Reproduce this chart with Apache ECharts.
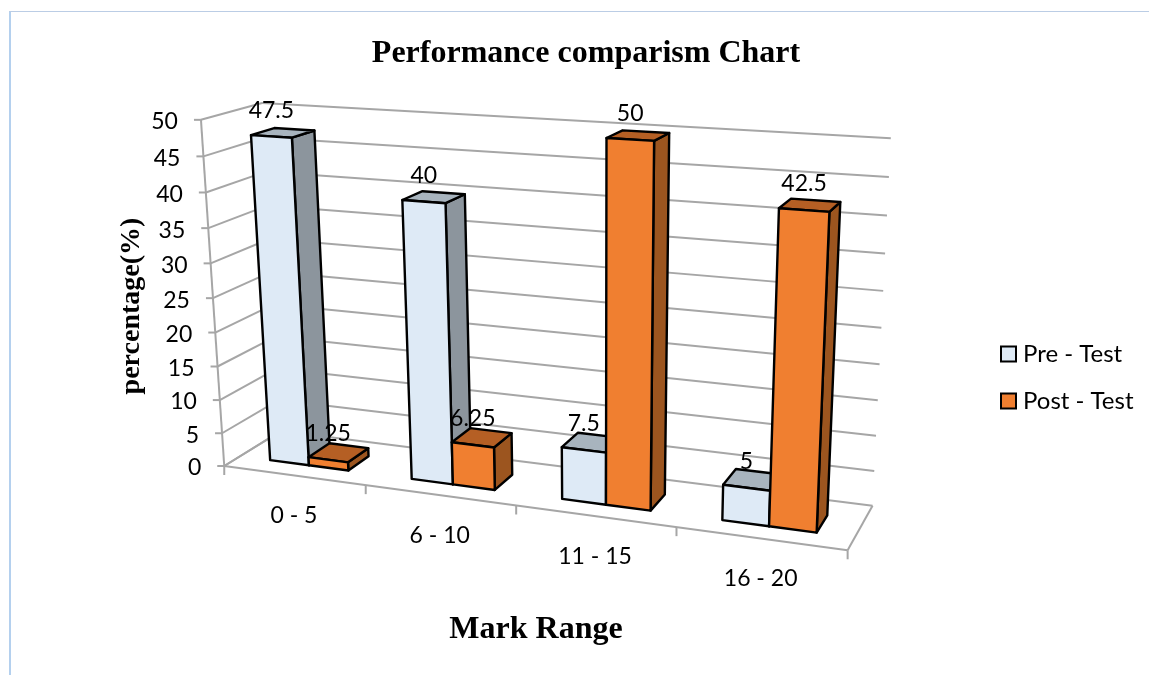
<!DOCTYPE html>
<html><head><meta charset="utf-8">
<style>html,body{margin:0;padding:0;background:#fff}#c{width:1149px;height:675px}</style>
<script src="https://cdn.jsdelivr.net/npm/echarts@6/dist/echarts.min.js"></script>
</head><body><div id="c"></div>
<script>
// ---- data ----
var categories = ['0 - 5', '6 - 10', '11 - 15', '16 - 20'];
var preTest = [47.5, 40, 7.5, 5];
var postTest = [1.25, 6.25, 50, 42.5];
var preLabels = ['47.5', '40', '7.5', '5'];
var postLabels = ['1.25', '6.25', '50', '42.5'];
var yTicks = [0, 5, 10, 15, 20, 25, 30, 35, 40, 45, 50];

// ---- view calibration: fits the camera that turns (u, v, d) plot space into screen space ----
var calib = [
  [0,0,0,222,467],[0,1,0,203,120],[0,0,1,283,430],[0,1,1,260,103],
  [1,0,0,848,549],[1,0,1,872,507],[1,1,1,891,138]
];
function fitCamera(pts){
  var rows=[];
  pts.forEach(function(p){
    var u=p[0],v=p[1],d=p[2],x=p[3],y=p[4];
    rows.push([u,v,d,1,0,0,0,0,-x*u,-x*v,-x*d,x]);
    rows.push([0,0,0,0,u,v,d,1,-y*u,-y*v,-y*d,y]);
  });
  var n=11,M=[],i,j,k;
  for(i=0;i<n;i++){M[i]=[];for(j=0;j<=n;j++){var s=0;rows.forEach(function(r){s+=r[i]*r[j];});M[i][j]=s;}}
  for(i=0;i<n;i++){
    var b=i;for(k=i+1;k<n;k++)if(Math.abs(M[k][i])>Math.abs(M[b][i]))b=k;
    var t=M[i];M[i]=M[b];M[b]=t;
    for(k=0;k<n;k++){if(k===i)continue;var f=M[k][i]/M[i][i];for(j=i;j<=n;j++)M[k][j]-=f*M[i][j];}
  }
  var c=[];for(i=0;i<n;i++)c[i]=M[i][n]/M[i][i];
  return c;
}
var cam=fitCamera(calib);
function proj(u,v,d){
  var w=cam[8]*u+cam[9]*v+cam[10]*d+1;
  return [(cam[0]*u+cam[1]*v+cam[2]*d+cam[3])/w,(cam[4]*u+cam[5]*v+cam[6]*d+cam[7])/w];
}

var BAR_W=0.28, D0=0.27, D1=0.66;
var LABEL_FONT='Lato';
var AXIS_COLOR='#A6A6A6';

function toPlot(params,api,cat,val){
  var cs=params.coordSys, p=api.coord([cat,val]);
  return {u:(p[0]-cs.x)/cs.width, v:(cs.y+cs.height-p[1])/cs.height, bw:api.size([1,0])[0]/cs.width};
}
function seg(a,b,w){
  return {type:'line',shape:{x1:a[0],y1:a[1],x2:b[0],y2:b[1]},style:{stroke:AXIS_COLOR,lineWidth:w||2}};
}
function frame(params,api){
  var kids=[];
  yTicks.forEach(function(t){
    var v=toPlot(params,api,0,t).v;
    var a=proj(0,v,0);
    kids.push(seg(proj(0,v,1),a));
    kids.push(seg(proj(0,v,1),proj(1,v,1)));
    kids.push(seg([a[0]-7,a[1]],a));
    kids.push({type:'text',style:{x:a[0]-23,y:a[1]+2,text:String(t),align:'right',verticalAlign:'middle',fill:'#000',fontSize:23,fontFamily:LABEL_FONT}});
  });
  kids.push(seg(proj(0,0,0),proj(0,1,0)));
  kids.push(seg(proj(0,0,0),proj(1,0,0)));
  kids.push(seg(proj(1,0,0),proj(1,0,1)));
  kids.push(seg(proj(0,0,1),proj(0,0,0)));
  var bw=toPlot(params,api,0,0).bw;
  for(var i=0;i<=categories.length;i++){
    var a=proj(i*bw,0,0);
    kids.push(seg(a,[a[0],a[1]+9]));
  }
  categories.forEach(function(c,i){
    var p=toPlot(params,api,i,0), a=proj(p.u,0,0);
    kids.push({type:'text',style:{x:a[0],y:a[1]+40,text:c,align:'center',verticalAlign:'middle',fill:'#000',fontSize:23,fontFamily:LABEL_FONT}});
  });
  return {type:'group',children:kids};
}
function face(pts,fill){
  return {type:'polygon',shape:{points:pts},style:{fill:fill,stroke:'#000',lineWidth:2.4,lineJoin:'round'}};
}
function barRenderer(offset,colors){
  return function(params,api){
    var p=toPlot(params,api,api.value(0),api.value(1));
    var u0=p.u+offset*p.bw*BAR_W, u1=u0+p.bw*BAR_W, v=p.v;
    return {type:'group',children:[
      face([proj(u1,0,D0),proj(u1,0,D1),proj(u1,v,D1),proj(u1,v,D0)],colors.side),
      face([proj(u0,v,D0),proj(u1,v,D0),proj(u1,v,D1),proj(u0,v,D1)],colors.top),
      face([proj(u0,0,D0),proj(u1,0,D0),proj(u1,v,D0),proj(u0,v,D0)],colors.front)
    ]};
  };
}
function labelRenderer(offset,texts){
  return function(params,api){
    var i=api.value(0), p=toPlot(params,api,i,api.value(1));
    var a=proj(p.u+(offset+0.5)*p.bw*BAR_W,p.v,D0);
    return {type:'text',style:{x:a[0],y:a[1]-26,text:texts[i],align:'center',verticalAlign:'middle',fill:'#000',fontSize:23,fontFamily:LABEL_FONT}};
  };
}
function pairs(vals){return vals.map(function(v,i){return [i,v];});}

var preColors={front:'#DEEAF6',top:'#A8B4BE',side:'#8C959D'};
var postColors={front:'#F07F30',top:'#B55F24',side:'#9C551F'};

var chart=echarts.init(document.getElementById('c'),null,{renderer:'canvas'});
chart.setOption({
  animation:false,
  backgroundColor:'#fff',
  title:[
    {text:'Performance comparism Chart',left:581,top:33,textAlign:'center',textStyle:{fontFamily:'Liberation Serif',fontWeight:'bold',fontSize:32,color:'#000'}},
    {text:'Mark Range',left:531,top:609,textAlign:'center',textStyle:{fontFamily:'Liberation Serif',fontWeight:'bold',fontSize:32,color:'#000'}}
  ],
  legend:{
    orient:'vertical',left:995,top:337,itemWidth:15,itemHeight:15,itemGap:23,icon:'rect',
    data:['Pre - Test','Post - Test'],
    itemStyle:{borderColor:'#000',borderWidth:2},
    textStyle:{fontFamily:LABEL_FONT,fontSize:24,color:'#000',padding:[0,0,0,2]}
  },
  grid:{left:100,top:100,right:100,bottom:100,show:false},
  xAxis:{type:'category',data:categories,show:false},
  yAxis:{type:'value',min:0,max:50,interval:5,show:false},
  graphic:[
    {type:'rect',shape:{x:9,y:11,width:2,height:664},style:{fill:'#B4D0EE'},silent:true},
    {type:'rect',shape:{x:9,y:11,width:1140,height:1},style:{fill:'#BBCDE5'},silent:true},
    {type:'text',x:132,y:306,rotation:Math.PI/2,style:{text:'percentage(%)',align:'center',verticalAlign:'middle',fill:'#000',fontFamily:'Liberation Serif',fontWeight:'bold',fontSize:28},silent:true}
  ],
  series:[
    {type:'custom',name:'frame',silent:true,z:1,renderItem:frame,data:[[0,0]]},
    {type:'custom',name:'Pre - Test',z:2,renderItem:barRenderer(-1,preColors),data:pairs(preTest),itemStyle:{color:preColors.front}},
    {type:'custom',name:'Post - Test',z:3,renderItem:barRenderer(0,postColors),data:pairs(postTest),itemStyle:{color:postColors.front}},
    {type:'custom',name:'preValues',silent:true,z:4,renderItem:labelRenderer(-1,preLabels),data:pairs(preTest)},
    {type:'custom',name:'postValues',silent:true,z:4,renderItem:labelRenderer(0,postLabels),data:pairs(postTest)}
  ]
});
</script></body></html>
